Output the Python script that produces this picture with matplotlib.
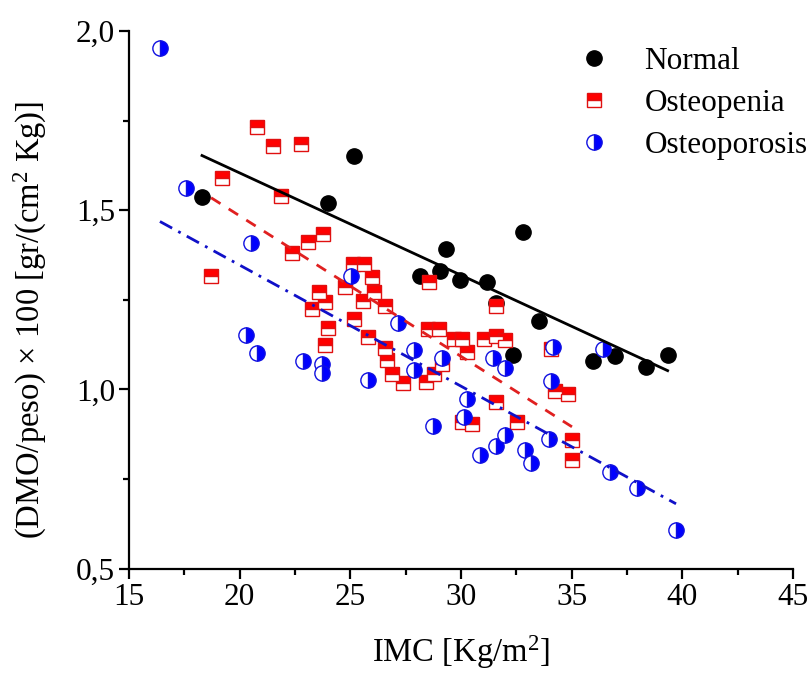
import matplotlib
matplotlib.use("Agg")
import matplotlib.pyplot as plt
from matplotlib.ticker import MultipleLocator, FuncFormatter
import numpy as np

plt.rcParams['font.family'] = ['Liberation Serif', 'DejaVu Serif']
plt.rcParams['mathtext.fontset'] = 'custom'
plt.rcParams['mathtext.rm'] = 'Liberation Serif'
plt.rcParams['mathtext.default'] = 'regular'

# Normal
imc_normal = [18.30, 23.98, 25.18, 28.14, 29.04, 29.32, 29.95, 31.16,
              31.56, 32.36, 32.81, 33.54, 35.94, 36.94, 38.35, 39.33]
dmo_normal = [1.537, 1.521, 1.651, 1.316, 1.330, 1.393, 1.304, 1.300,
              1.241, 1.095, 1.439, 1.190, 1.079, 1.092, 1.062, 1.095]

# Osteopenia
imc_penia = [18.71, 19.19, 20.78, 21.50, 21.88, 22.79, 22.36, 23.08, 23.77, 25.10,
             25.63, 25.97, 24.77, 23.57, 26.05, 23.87, 25.59, 23.27, 26.56, 25.18,
             23.98, 25.78, 23.87, 26.56, 26.65, 26.86, 27.36, 28.41, 28.78, 29.16,
             28.50, 28.99, 29.68, 30.06, 30.28, 31.04, 31.56, 31.98, 28.56, 31.56,
             34.04, 34.26, 34.83, 31.56, 32.54, 30.06, 30.51, 35.01, 35.01]
dmo_penia = [1.316, 1.591, 1.733, 1.679, 1.540, 1.686, 1.381, 1.411, 1.433, 1.351,
             1.351, 1.314, 1.286, 1.272, 1.272, 1.244, 1.246, 1.225, 1.232, 1.196,
             1.172, 1.146, 1.125, 1.115, 1.081, 1.044, 1.018, 1.020, 1.044, 1.072,
             1.169, 1.169, 1.142, 1.142, 1.104, 1.142, 1.148, 1.139, 1.300, 1.232,
             1.114, 0.997, 0.988, 0.965, 0.909, 0.909, 0.904, 0.858, 0.802]

# Osteoporosis
imc_porosis = [16.40, 17.57, 20.50, 20.30, 20.78, 22.88, 23.71, 23.71, 25.05, 25.78,
               27.16, 27.88, 27.88, 28.75, 29.16, 30.28, 30.14, 30.86, 31.45, 31.98,
               31.98, 31.56, 32.88, 33.17, 33.96, 34.04, 34.15, 36.43, 36.74, 37.94,
               39.71]
dmo_porosis = [1.952, 1.561, 1.409, 1.151, 1.101, 1.078, 1.072, 1.046, 1.316, 1.025,
               1.184, 1.111, 1.055, 0.897, 1.089, 0.974, 0.923, 0.818, 1.089, 1.061,
               0.873, 0.842, 0.830, 0.794, 0.862, 1.023, 1.118, 1.112, 0.771, 0.724,
               0.609]

fig = plt.figure(figsize=(8.11, 6.73), dpi=100)
ax = fig.add_axes([0.159, 0.155, 0.819, 0.799])

ax.plot(imc_normal, dmo_normal, 'o', color='black', markersize=11,
        label='Normal', zorder=3)
ax.plot(imc_penia, dmo_penia, 's', markersize=10, markerfacecolor='#ff0000',
        markerfacecoloralt='white', markeredgecolor='#e01010', markeredgewidth=1.0,
        fillstyle='top', label='Osteopenia', zorder=4)
ax.plot(imc_porosis, dmo_porosis, 'o', markersize=11, markerfacecolor='#0000ff',
        markerfacecoloralt='white', markeredgecolor='#1010e0', markeredgewidth=1.0,
        fillstyle='right', label='Osteoporosis', zorder=5)

# linear fits
for xs, ys, col, ls in [(imc_normal, dmo_normal, 'black', '-'),
                        (imc_penia, dmo_penia, '#e02020', (0, (4, 3.5))),
                        (imc_porosis, dmo_porosis, '#1010c8', (0, (5, 2.5, 1, 2.5)))]:
    p = np.polyfit(xs, ys, 1)
    xx = np.array([min(xs), max(xs)])
    ax.plot(xx, np.polyval(p, xx), color=col, linestyle=ls, linewidth=2, zorder=6)

ax.set_xlim(15, 45)
ax.set_ylim(0.5, 2.0)
ax.xaxis.set_major_locator(MultipleLocator(5))
ax.xaxis.set_minor_locator(MultipleLocator(2.5))
ax.yaxis.set_major_locator(MultipleLocator(0.5))
ax.yaxis.set_minor_locator(MultipleLocator(0.25))
ax.yaxis.set_major_formatter(FuncFormatter(lambda v, pos: ('%.1f' % v).replace('.', ',')))

for s in ['top', 'right']:
    ax.spines[s].set_visible(False)
for s in ['left', 'bottom']:
    ax.spines[s].set_linewidth(1.6)
ax.tick_params(which='major', direction='out', length=7, width=1.6, labelsize=22.5, pad=3)
ax.tick_params(which='minor', direction='out', length=4.5, width=1.6)

ax.set_xlabel('IMC [Kg/m$^{2}$]', fontsize=23.5, labelpad=16)
ax.set_ylabel('(DMO/peso) × 100 [gr/(cm$^{2}$ Kg)]', fontsize=23.5)
ax.yaxis.set_label_coords(-0.12, 0.463)

ax.legend(loc='upper right', bbox_to_anchor=(1.045, 1.0), frameon=False, fontsize=22.5,
          handletextpad=1.0, labelspacing=0.42, handlelength=1.2, numpoints=1,
          borderaxespad=0.1)

fig.savefig('out.png', dpi=100)
